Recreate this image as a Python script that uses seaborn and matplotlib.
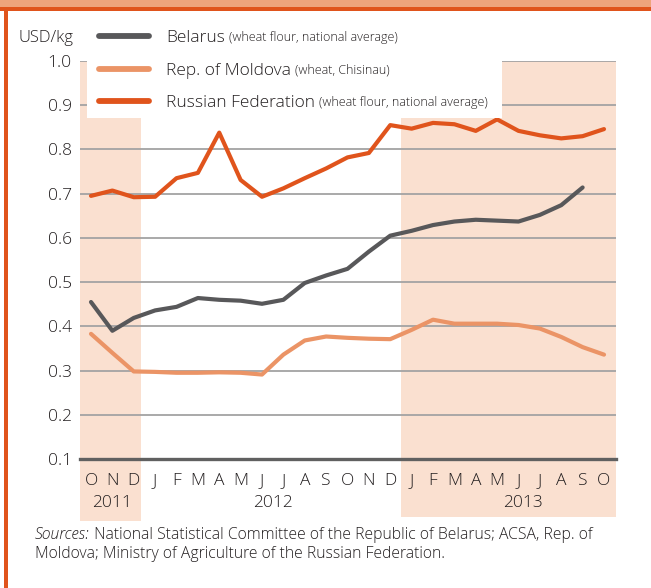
import matplotlib
matplotlib.use("Agg")
import matplotlib.pyplot as plt
import matplotlib.transforms as mtrans
from matplotlib.patches import Rectangle
from matplotlib.text import Annotation
import seaborn as sns
import pandas as pd
import numpy as np

# ---------------- data ----------------
months = ["O", "N", "D", "J", "F", "M", "A", "M", "J", "J", "A", "S", "O",
          "N", "D", "J", "F", "M", "A", "M", "J", "J", "A", "S", "O"]
years = ["2011", "2012", "2013"]
year_pos = [1, 8.5, 20.2]

belarus = [0.455, 0.390, 0.419, 0.436, 0.444, 0.464, 0.460, 0.458, 0.451,
           0.460, 0.498, 0.515, 0.530, 0.569, 0.605, 0.616, 0.629, 0.637,
           0.641, 0.639, 0.637, 0.652, 0.674, 0.714, np.nan]
moldova = [0.383, 0.340, 0.298, 0.297, 0.295, 0.295, 0.296, 0.295, 0.291,
           0.336, 0.368, 0.377, 0.374, 0.372, 0.371, 0.392, 0.415, 0.406,
           0.406, 0.406, 0.403, 0.395, 0.376, 0.353, 0.336]
russia = [0.695, 0.707, 0.692, 0.693, 0.735, 0.747, 0.838, 0.731, 0.693,
          0.712, 0.735, 0.757, 0.782, 0.792, 0.855, 0.847, 0.860, 0.857,
          0.842, 0.868, 0.842, 0.832, 0.825, 0.830, 0.846]

series_names = ["Belarus", "Rep. of Moldova", "Russian Federation"]
series_notes = ["(wheat flour, national average)", "(wheat, Chisinau)",
                "(wheat flour, national average)"]
yticks = [0.1, 0.2, 0.3, 0.4, 0.5, 0.6, 0.7, 0.8, 0.9, 1.0]
ytick_labels = ["0.1", "0.2", "0.3", "0.4", "0.5", "0.6", "0.7", "0.8", "0.9", "1.0"]

colors = {"Belarus": "#58585a", "Rep. of Moldova": "#eb9466",
          "Russian Federation": "#e0541c"}
SHADE = "#fae0d0"
TXT = "#231f20"

idx = list(range(len(months)))
df = pd.concat([
    pd.DataFrame({"idx": idx, "value": belarus, "country": "Belarus"}),
    pd.DataFrame({"idx": idx, "value": moldova, "country": "Rep. of Moldova"}),
    pd.DataFrame({"idx": idx, "value": russia, "country": "Russian Federation"}),
], ignore_index=True)

# ---------------- figure ----------------
sns.set_theme(style="white")
plt.rcParams["font.family"] = ["Open Sans", "DejaVu Sans"]
plt.rcParams["font.weight"] = "light"

W, H = 651, 588
fig = plt.figure(figsize=(W / 100, H / 100), dpi=100)
fig.patch.set_facecolor("white")


def fx(px):
    return px / W


def fy(py):
    return 1 - py / H


ax_l, ax_r, ax_b, ax_t = 80, 616, 459, 61
ax = fig.add_axes([fx(ax_l), fy(ax_b), fx(ax_r) - fx(ax_l), fy(ax_t) - fy(ax_b)])
ax.set_facecolor("none")

step = (604 - 91) / 24.0
x0 = (ax_l - 91) / step
x1 = (ax_r - 91) / step
ax.set_xlim(x0, x1)
ax.set_ylim(0.1, 1.0)

hpx = ax_b - ax_t
# shaded periods (2011 and 2013), extending below the axis behind the labels
ax.axvspan(x0, 2.33, ymin=-(521 - ax_b) / hpx, ymax=1, color=SHADE, lw=0,
           zorder=0, clip_on=False)
ax.axvspan(14.5, x1, ymin=-(517 - ax_b) / hpx, ymax=1, color=SHADE, lw=0,
           zorder=0, clip_on=False)

sns.lineplot(data=df, x="idx", y="value", hue="country", palette=colors,
             hue_order=series_names, lw=3, ax=ax, zorder=3, sort=False)

ax.set_yticks(yticks)
ax.set_yticklabels(ytick_labels)
ax.grid(axis="y", color="#a3a3a3", lw=1.3, zorder=1)
ax.grid(axis="x", visible=False)
for s in ["top", "left", "right"]:
    ax.spines[s].set_visible(False)
ax.spines["bottom"].set_color("#606060")
ax.spines["bottom"].set_linewidth(2.4)
ax.spines["bottom"].set_zorder(2)

ax.set_xticks(idx)
ax.set_xticklabels(months)
ax.tick_params(axis="x", direction="in", length=6, width=1.7, color="#333333",
               pad=10, labelsize=12.5, labelcolor=TXT)
ax.tick_params(axis="y", left=False, length=0, pad=6, labelsize=12.5,
               labelcolor=TXT)
ax.set_xlabel("")
ax.set_ylabel("")

trans = mtrans.blended_transform_factory(ax.transData, ax.transAxes)
for yl, xp in zip(years, year_pos):
    ax.text(xp, -(503 - ax_b) / hpx, yl, transform=trans, ha="center",
            va="center", fontsize=12.5, color=TXT)

fig.text(fx(18), fy(38), "USD/kg", ha="left", va="center", fontsize=12,
         color=TXT)

# legend on a white box
handles, labels = ax.get_legend_handles_labels()
if ax.get_legend() is not None:
    ax.get_legend().remove()
fig.add_artist(Rectangle((fx(87), fy(118)), fx(502) - fx(87), fy(25) - fy(118),
                         transform=fig.transFigure, facecolor="white",
                         edgecolor="none", zorder=4))
leg = fig.legend(handles, labels, loc="upper left",
                 bbox_to_anchor=(fx(99), fy(30)), frameon=False,
                 fontsize=12.5, handlelength=2.9, handletextpad=0.95,
                 labelspacing=0.95, borderaxespad=0, borderpad=0)
leg.set_zorder(5)
for h in leg.legend_handles:
    h.set_linewidth(4.2)
for t in leg.get_texts():
    t.set_color(TXT)
for t, note in zip(leg.get_texts(), series_notes):
    fig.add_artist(Annotation(note, xy=(1, 0), xycoords=t, xytext=(3, 1.6),
                              textcoords="offset points", ha="left",
                              va="bottom", fontsize=9, color=TXT, zorder=6))

# sources
src_it = fig.text(fx(35), fy(535), "Sources:", style="italic", ha="left",
                  va="center", fontsize=11.3, color=TXT)
fig.add_artist(Annotation(" National Statistical Committee of the Republic of Belarus; ACSA, Rep. of",
                          xy=(1, 0.5), xycoords=src_it, xytext=(0, 0),
                          textcoords="offset points", ha="left", va="center",
                          fontsize=11.3, color=TXT))
fig.text(fx(35), fy(554), "Moldova; Ministry of Agriculture of the Russian Federation.",
         ha="left", va="center", fontsize=11.3, color=TXT)

# frame decoration (top band and left rule)
fig.add_artist(Rectangle((0, fy(7)), 1, fy(0) - fy(7), transform=fig.transFigure,
                         facecolor="#eea47c", edgecolor="none", zorder=7))
fig.add_artist(Rectangle((0, fy(10.5)), 1, fy(7) - fy(10.5), transform=fig.transFigure,
                         facecolor="#e0541c", edgecolor="none", zorder=7))
fig.add_artist(Rectangle((fx(4), 0), fx(7.5) - fx(4), fy(7), transform=fig.transFigure,
                         facecolor="#e0541c", edgecolor="none", zorder=7))

fig.savefig("out.png", dpi=100)
